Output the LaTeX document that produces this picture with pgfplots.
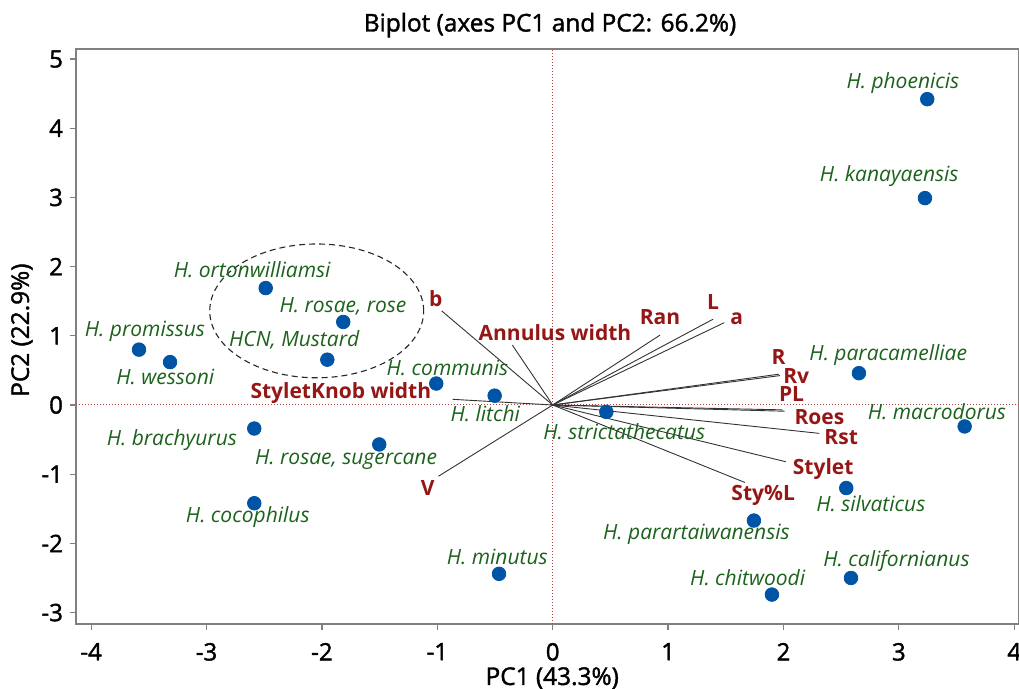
\documentclass[border=0pt]{standalone}
\usepackage{fontspec}
\setmainfont{Open Sans}
\newfontfamily\semib[FakeBold=1.6]{Open Sans}
\usepackage{pgfplots}
\pgfplotsset{compat=1.18}
\usepackage{pgfplotstable}
\definecolor{ptblue}{RGB}{0,84,166}
\definecolor{spgreen}{RGB}{28,98,28}
\definecolor{varred}{RGB}{150,22,22}
\definecolor{axgray}{RGB}{128,128,128}
\pgfplotstableread{
x y
3.246 4.42
3.226 2.99
-2.487 1.69
-1.815 1.20
-3.585 0.80
-3.316 0.62
-1.953 0.655
-1.009 0.31
-0.503 0.135
-2.586 -0.34
-1.503 -0.57
-2.586 -1.42
-0.465 -2.44
0.465 -0.10
2.654 0.46
3.570 -0.31
2.544 -1.20
1.744 -1.67
2.585 -2.50
1.900 -2.74
}\species
\newcommand{\splab}[3]{\node[font=\fontsize{10.5}{12}\selectfont\itshape, text=spgreen, inner sep=0pt] at (axis cs:#1,#2) {#3};}
\newcommand{\vrlab}[3]{\node[font=\fontsize{10.5}{12}\selectfont\bfseries, text=varred, inner sep=0pt] at (axis cs:#1,#2) {#3};}
\begin{document}
\begin{tikzpicture}
\begin{axis}[
  at={(0,0)}, anchor=south west,
  width=471.5pt, height=287.5pt, scale only axis,
  xmin=-4.131, xmax=4.041, ymin=-3.165, ymax=5.145,
  xtick={-4,-3,-2,-1,0,1,2,3,4}, ytick={-3,-2,-1,0,1,2,3,4,5},
  xtick pos=bottom, ytick pos=left,
  tick align=outside, major tick length=3pt,
  axis line style={axgray, line width=0.7pt},
  tick style={axgray, line width=0.6pt},
  ticklabel style={font=\semib\fontsize{12}{14}\selectfont},
  xticklabel style={yshift=-3pt},
  /pgf/number format/assume math mode=true,
  every axis title shift=0pt,
  title={Biplot (axes PC1 and PC2: 66.2\%)},
  title style={font=\semib\fontsize{12.2}{14}\selectfont, at={(axis description cs:0.5027,1.0415)}, anchor=center},
  xlabel={PC1 (43.3\%)},
  xlabel style={font=\semib\fontsize{12.2}{14}\selectfont, at={(axis description cs:0.505,-0.094)}, anchor=center},
  ylabel={PC2 (22.9\%)},
  ylabel style={font=\semib\fontsize{12.2}{14}\selectfont, at={(axis description cs:-0.0573,0.511)}, anchor=center, rotate=0},
]
% zero lines
\addplot[densely dotted, varred!80, line width=0.5pt] coordinates {(-4.131,0) (4.041,0)};
\addplot[densely dotted, varred!80, line width=0.5pt] coordinates {(0,-3.165) (0,5.145)};
% vectors
\addplot[black!80, line width=0.45pt] coordinates {(0,0) (-0.962,1.36)};
\addplot[black!80, line width=0.45pt] coordinates {(0,0) (-0.35,0.867)};
\addplot[black!80, line width=0.45pt] coordinates {(0,0) (0.93,1.01)};
\addplot[black!80, line width=0.45pt] coordinates {(0,0) (1.39,1.24)};
\addplot[black!80, line width=0.45pt] coordinates {(0,0) (1.487,1.19)};
\addplot[black!80, line width=0.45pt] coordinates {(0,0) (1.96,0.445)};
\addplot[black!80, line width=0.45pt] coordinates {(0,0) (1.97,0.425)};
\addplot[black!80, line width=0.45pt] coordinates {(0,0) (1.99,-0.07)};
\addplot[black!80, line width=0.45pt] coordinates {(0,0) (2.01,-0.09)};
\addplot[black!80, line width=0.45pt] coordinates {(0,0) (2.31,-0.41)};
\addplot[black!80, line width=0.45pt] coordinates {(0,0) (2.02,-0.82)};
\addplot[black!80, line width=0.45pt] coordinates {(0,0) (1.666,-1.12)};
\addplot[black!80, line width=0.45pt] coordinates {(0,0) (-0.867,0.082)};
\addplot[black!80, line width=0.45pt] coordinates {(0,0) (-0.99,-1.03)};
% points
\addplot[only marks, mark=*, mark size=3.4pt, ptblue] table[x=x,y=y] {\species};
% ellipse
\draw[densely dashed, black!85, line width=0.55pt] (axis cs:-2.045,1.36) ellipse [x radius=0.927, y radius=0.967];
% species labels
\splab{3.035}{4.65}{H. phoenicis}
\splab{2.917}{3.31}{H. kanayaensis}
\splab{-2.604}{1.95}{H. ortonwilliamsi}
\splab{-1.817}{1.42}{H. rosae, rose}
\splab{-3.533}{1.07}{H. promissus}
\splab{-2.24}{0.94}{HCN, Mustard}
\splab{-3.357}{0.40}{H. wessoni}
\splab{-0.912}{0.53}{H. communis}
\splab{-0.584}{-0.12}{H. litchi}
\splab{-3.30}{-0.506}{H. brachyurus}
\splab{-1.79}{-0.785}{H. rosae, sugercane}
\splab{-2.642}{-1.62}{H. cocophilus}
\splab{-0.48}{-2.19}{H. minutus}
\splab{0.62}{-0.385}{H. strictathecatus}
\splab{2.908}{0.72}{H. paracamelliae}
\splab{3.33}{-0.097}{H. macrodorus}
\splab{2.757}{-1.42}{H. silvaticus}
\splab{1.246}{-1.87}{H. parartaiwanensis}
\splab{2.98}{-2.25}{H. californianus}
\splab{1.69}{-2.50}{H. chitwoodi}
% variable labels
\vrlab{-1.014}{1.54}{b}
\vrlab{0.02}{1.05}{Annulus width}
\vrlab{0.93}{1.276}{Ran}
\vrlab{1.389}{1.49}{L}
\vrlab{1.594}{1.24}{a}
\vrlab{1.958}{0.70}{R}
\vrlab{2.11}{0.42}{Rv}
\vrlab{2.07}{0.16}{PL}
\vrlab{2.312}{-0.17}{Roes}
\vrlab{2.50}{-0.458}{Rst}
\vrlab{2.344}{-0.93}{Stylet}
\vrlab{1.824}{-1.30}{Sty\%L}
\vrlab{-1.836}{0.17}{StyletKnob width}
\vrlab{-1.083}{-1.20}{V}
\end{axis}
\pgfresetboundingbox
\useasboundingbox (-38pt,-32.5pt) rectangle (471.5pt,312pt);
\end{tikzpicture}
\end{document}
